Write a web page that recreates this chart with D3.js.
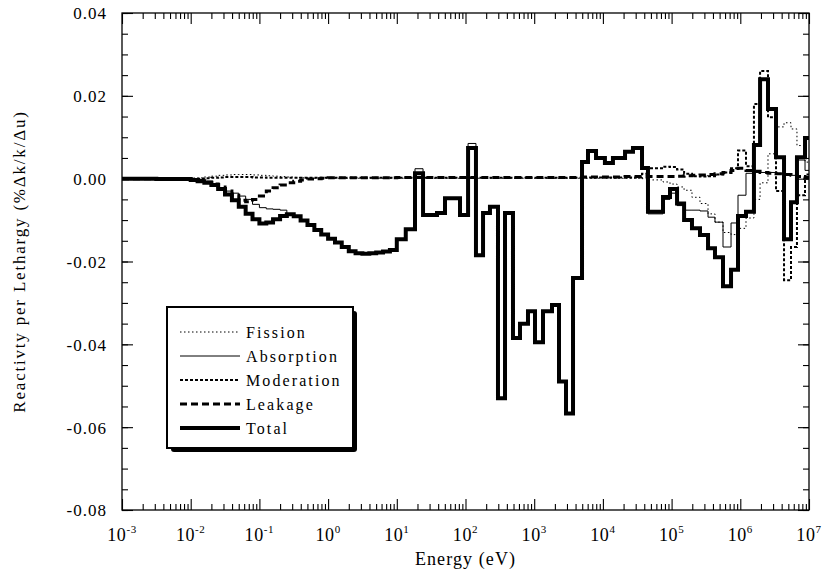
<!DOCTYPE html>
<html>
<head>
<meta charset="utf-8">
<script src="https://cdn.jsdelivr.net/npm/d3@7"></script>
<style>
  body { margin: 0; background: #fff; }
</style>
</head>
<body>
<script>

//Data: group edges (eV) and reactivity per lethargy for each group
var bounds = [1e-3, 3.16e-3,
    0.01, 0.0126, 0.0158, 0.02, 0.0251, 0.0316, 0.0398, 0.0501, 0.0631, 0.0794,
    0.1, 0.126, 0.158, 0.2, 0.251, 0.316, 0.398, 0.501, 0.631, 0.794,
    1, 1.26, 1.58, 2, 2.51, 3.16, 3.98, 5.01, 6.31, 7.94,
    10, 13.5, 18.4, 24.1, 38.5, 50.3, 83.2, 109, 142, 180,
    227, 297, 376, 491, 621, 812, 1027, 1343, 1816, 2296,
    2904, 3673, 4966, 6067, 7943, 1.07e4, 1.40e4, 2.10e4, 2.74e4, 3.71e4,
    4.53e4, 7.50e4, 9.48e4, 1.20e5, 1.52e5, 1.98e5, 2.59e5, 3.39e5, 4.28e5, 5.60e5,
    7.33e5, 9.26e5, 1.21e6, 1.58e6, 1.94e6, 2.53e6, 3.31e6, 4.33e6, 5.47e6, 6.68e6,
    8.75e6, 1e7];

var total = [0, -0.0001,
    -0.0003, -0.0006, -0.0010, -0.0015, -0.0025, -0.0038, -0.0052, -0.0068, -0.0085, -0.0098,
    -0.0108, -0.0106, -0.0098, -0.0090, -0.0086, -0.0091, -0.0101, -0.0112, -0.0124, -0.0135,
    -0.0145, -0.0154, -0.0165, -0.0175, -0.0180, -0.0181, -0.0180, -0.0178, -0.0176, -0.0172,
    -0.0146, -0.0122, 0.0013, -0.0088, -0.0083, -0.0047, -0.0088, 0.0074, -0.0185, -0.0083,
    -0.0068, -0.053, -0.0083, -0.0385, -0.035, -0.032, -0.0395, -0.032, -0.0305, -0.049,
    -0.0567, -0.024, 0.004, 0.0067, 0.005, 0.0038, 0.005, 0.0065, 0.0074, 0.0026,
    -0.008, -0.0044, -0.0025, -0.006, -0.010, -0.012, -0.0136, -0.0168, -0.019, -0.026,
    -0.022, -0.009, -0.008, 0.0081, 0.024, 0.0168, 0.0052, -0.0146, -0.0057, 0.0052,
    0.0098];

var absorption = [0, -0.0001,
    -0.0003, -0.0006, -0.0010, -0.0015, -0.0023, -0.0030, -0.0035, -0.0042, -0.0050, -0.0062,
    -0.0070, -0.0073, -0.0074, -0.0076, -0.0086, -0.0091, -0.0101, -0.0112, -0.0124, -0.0135,
    -0.0145, -0.0154, -0.0165, -0.0175, -0.0180, -0.0181, -0.0180, -0.0178, -0.0176, -0.0172,
    -0.0146, -0.0122, 0.0024, -0.0088, -0.0083, -0.0047, -0.0088, 0.0085, -0.0185, -0.0083,
    -0.0068, -0.053, -0.0083, -0.0385, -0.035, -0.032, -0.0395, -0.032, -0.0305, -0.049,
    -0.0567, -0.024, 0.004, 0.0067, 0.005, 0.0038, 0.005, 0.0065, 0.0074, 0.0026,
    -0.0085, -0.005, -0.0035, -0.0065, -0.0076, -0.0076, -0.0078, -0.0093, -0.0105, -0.0165,
    -0.0107, -0.004, 0.0013, 0.0015, 0.0015, 0.0015, 0.0012, 0.001, 0.0008, 0.0045,
    0.002];

var fission = [0, 0,
    0.0001, 0.0002, 0.0004, 0.0006, 0.0008, 0.0009, 0.0010, 0.0010, 0.0010, 0.0009,
    0.0008, 0.0007, 0.0006, 0.0005, 0.0004, 0.0003, 0.0002, 0.0001, 0.0001, 0.0001,
    0.0001, 0.0001, 0.0001, 0.0001, 0.0001, 0.0001, 0.0001, 0.0001, 0.0001, 0.0001,
    0.0001, 0.0001, 0.0001, 0.0001, 0.0001, 0.0001, 0.0001, 0.0001, 0.0001, 0.0001,
    0.0001, 0.0001, 0.0001, 0.0001, 0.0001, 0.0001, 0.0001, 0.0001, 0.0001, 0.0001,
    0.0001, 0.0001, 0.0001, 0.0001, 0.0001, 0.0001, 0.0001, 0.0001, 0.0001, 0,
    -0.0003, -0.0008, -0.0013, -0.002, -0.0028, -0.0045, -0.006, -0.0085, -0.0105, -0.013,
    -0.0135, -0.012, -0.0095, -0.005, -0.001, 0.006, 0.0125, 0.0135, 0.012, 0.008,
    0.004];

var moderation = [0, 0,
    0, 0, 0.0001, 0.0002, 0.0003, 0.0004, 0.0004, 0.0004, 0.0004, 0.0003,
    0.0003, 0.0002, 0.0002, 0.0002, 0.0002, 0.0002, 0.0002, 0.0002, 0.0002, 0.0002,
    0.0002, 0.0002, 0.0002, 0.0002, 0.0002, 0.0002, 0.0002, 0.0002, 0.0002, 0.0002,
    0.0002, 0.0002, 0.0002, 0.0002, 0.0002, 0.0002, 0.0002, 0.0002, 0.0002, 0.0002,
    0.0002, 0.0002, 0.0002, 0.0002, 0.0002, 0.0002, 0.0002, 0.0002, 0.0002, 0.0002,
    0.0002, 0.0002, 0.0003, 0.0003, 0.0003, 0.0003, 0.0003, 0.0003, 0.0003, 0.0012,
    0.0025, 0.0029, 0.0028, 0.0022, 0.0012, 0.0006, 0.0005, 0.0006, 0.001, 0.0015,
    0.0025, 0.0068, 0.003, 0.018, 0.026, 0.0148, -0.003, -0.0245, -0.0165, -0.004,
    0.001];

var leakage = [0, 0,
    -0.0002, -0.0004, -0.0008, -0.0013, -0.0020, -0.0030, -0.0040, -0.0052, -0.0056, -0.0050,
    -0.0042, -0.0030, -0.0022, -0.0015, -0.0010, -0.0006, -0.0003, -0.0001, 0, 0.0001,
    0.0002, 0.0002, 0.0002, 0.0002, 0.0002, 0.0002, 0.0002, 0.0002, 0.0002, 0.0002,
    0.0003, 0.0003, 0.0003, 0.0003, 0.0003, 0.0003, 0.0003, 0.0003, 0.0003, 0.0003,
    0.0003, 0.0003, 0.0003, 0.0003, 0.0003, 0.0003, 0.0003, 0.0003, 0.0003, 0.0003,
    0.0003, 0.0003, 0.0004, 0.0004, 0.0004, 0.0004, 0.0004, 0.0005, 0.0005, 0.0005,
    0.0005, 0.0005, 0.0005, 0.0006, 0.0007, 0.0008, 0.0009, 0.001, 0.0012, 0.0015,
    0.002, 0.0025, 0.002, 0.0018, 0.0015, 0.0013, 0.0012, 0.001, 0.0008, 0.0005,
    0.0003];

var xTicks = [1e-3, 1e-2, 1e-1, 1e0, 1e1, 1e2, 1e3, 1e4, 1e5, 1e6, 1e7];
var xExponents = ["-3", "-2", "-1", "0", "1", "2", "3", "4", "5", "6", "7"];
var yTicks = [-0.08, -0.06, -0.04, -0.02, 0, 0.02, 0.04];

var width = 829;
var height = 577;
var margin = {top: 13, right: 20, bottom: 67, left: 122};
var innerWidth = width - margin.left - margin.right;
var innerHeight = height - margin.top - margin.bottom;
var serif = "Liberation Serif";

//Canvas
const svg = d3.select("body")
.append("svg")
    .attr("width", width)
    .attr("height", height)
    .attr("font-family", serif);

const g = svg.append("g")
    .attr("transform", "translate(" + margin.left + ", " + margin.top + ")");

//Scales
var x = d3.scaleLog()
    .domain([1e-3, 1e7])
    .range([0, innerWidth]);

var y = d3.scaleLinear()
    .domain([-0.08, 0.04])
    .range([innerHeight, 0]);

//Minor ticks
var xMinor = [];
xTicks.slice(0, -1).forEach((d) => {
    for (var k = 2; k < 10; k++) xMinor.push(d * k);
});
var yMinor = d3.range(-0.08, 0.0401, 0.005);

//Axes (ticks point inward on all four sides)
function styleAxis(sel) {
    sel.attr("font-family", serif);
    sel.select(".domain").remove();
    sel.selectAll("line").attr("stroke", "#000").attr("stroke-width", 1.1);
}

g.append("g").attr("transform", "translate(0, " + innerHeight + ")")
    .call(d3.axisBottom(x).tickValues(xTicks).tickSize(-11).tickFormat(""))
    .call(styleAxis);
g.append("g").attr("transform", "translate(0, " + innerHeight + ")")
    .call(d3.axisBottom(x).tickValues(xMinor).tickSize(-6).tickFormat(""))
    .call(styleAxis);
g.append("g")
    .call(d3.axisTop(x).tickValues(xTicks).tickSize(-11).tickFormat(""))
    .call(styleAxis);
g.append("g")
    .call(d3.axisTop(x).tickValues(xMinor).tickSize(-6).tickFormat(""))
    .call(styleAxis);

var yAxisGroup = g.append("g")
    .call(d3.axisLeft(y).tickValues(yTicks).tickSize(-11).tickPadding(15)
        .tickFormat((d) => d.toFixed(2)))
    .call(styleAxis);
yAxisGroup.selectAll("text")
    .attr("font-size", 17)
    .attr("font-family", serif)
    .attr("letter-spacing", 1)
    .attr("dy", "0.35em");

g.append("g")
    .call(d3.axisLeft(y).tickValues(yMinor).tickSize(-6).tickFormat(""))
    .call(styleAxis);
g.append("g").attr("transform", "translate(" + innerWidth + ", 0)")
    .call(d3.axisRight(y).tickValues(yTicks).tickSize(-11).tickFormat(""))
    .call(styleAxis);
g.append("g").attr("transform", "translate(" + innerWidth + ", 0)")
    .call(d3.axisRight(y).tickValues(yMinor).tickSize(-6).tickFormat(""))
    .call(styleAxis);

//Frame
g.append("rect")
    .attr("width", innerWidth)
    .attr("height", innerHeight)
    .attr("fill", "none")
    .attr("stroke", "#000")
    .attr("stroke-width", 1.3);

//X tick labels 10^n
var xLabels = g.selectAll(".x-label")
    .data(xTicks)
    .enter()
    .append("text")
        .attr("class", "x-label")
        .attr("x", (d) => x(d))
        .attr("y", innerHeight + 31)
        .attr("text-anchor", "middle")
        .attr("font-family", serif)
        .attr("font-size", 18)
        .attr("letter-spacing", 0.6);
xLabels.append("tspan").text("10");
xLabels.append("tspan")
    .attr("dy", -8)
    .attr("font-size", 11)
    .text((d, i) => xExponents[i]);

//Axis titles
g.append("text")
    .attr("x", innerWidth / 2)
    .attr("y", innerHeight + 55)
    .attr("text-anchor", "middle")
    .attr("font-family", serif)
    .attr("font-size", 18)
    .attr("letter-spacing", 1.1)
    .text("Energy (eV)");

g.append("text")
    .attr("transform", "rotate(-90)")
    .attr("x", -(innerHeight / 2))
    .attr("y", -97)
    .attr("text-anchor", "middle")
    .attr("font-family", serif)
    .attr("font-size", 17)
    .attr("letter-spacing", 1.8)
    .text("Reactivty per Lethargy (%\u0394k/k/\u0394u)");

//Series
var series = [
    {name: "Total", values: total, width: 4, dash: null},
    {name: "Leakage", values: leakage, width: 3, dash: "7,4"},
    {name: "Moderation", values: moderation, width: 2, dash: "3,2"},
    {name: "Absorption", values: absorption, width: 1, dash: null},
    {name: "Fission", values: fission, width: 1, dash: "1.5,2.5"}
];

var line = d3.line()
    .x((d) => x(d[0]))
    .y((d) => y(d[1]))
    .curve(d3.curveStepAfter);

function stepPoints(values) {
    var pts = values.map((v, i) => [bounds[i], v]);
    pts.push([bounds[values.length], values[values.length - 1]]);
    return pts;
}

g.selectAll(".series")
    .data(series)
    .enter()
    .append("path")
        .attr("class", "series")
        .attr("d", (d) => line(stepPoints(d.values)))
        .attr("fill", "none")
        .attr("stroke", "#000")
        .attr("stroke-width", (d) => d.width)
        .attr("stroke-dasharray", (d) => d.dash)
        .attr("stroke-linejoin", "miter");

//Legend
var legendOrder = ["Fission", "Absorption", "Moderation", "Leakage", "Total"];
var legend = svg.append("g").attr("transform", "translate(167, 307)");

legend.append("rect")
    .attr("x", 4).attr("y", 4)
    .attr("width", 186).attr("height", 141)
    .attr("rx", 3)
    .attr("fill", "#000");
legend.append("rect")
    .attr("width", 186).attr("height", 141)
    .attr("fill", "#fff")
    .attr("stroke", "#000")
    .attr("stroke-width", 2);

var items = legend.selectAll(".item")
    .data(legendOrder.map((n) => series.find((s) => s.name === n)))
    .enter()
    .append("g")
        .attr("class", "item")
        .attr("transform", (d, i) => "translate(0, " + (25 + i * 24) + ")");

items.append("line")
    .attr("x1", 13).attr("x2", 73)
    .attr("stroke", "#000")
    .attr("stroke-width", (d) => d.width)
    .attr("stroke-dasharray", (d) => d.dash);

items.append("text")
    .attr("x", 79)
    .attr("y", 6)
    .attr("font-family", serif)
    .attr("font-size", 16)
    .attr("letter-spacing", 2.1)
    .text((d) => d.name);

</script>
</body>
</html>
